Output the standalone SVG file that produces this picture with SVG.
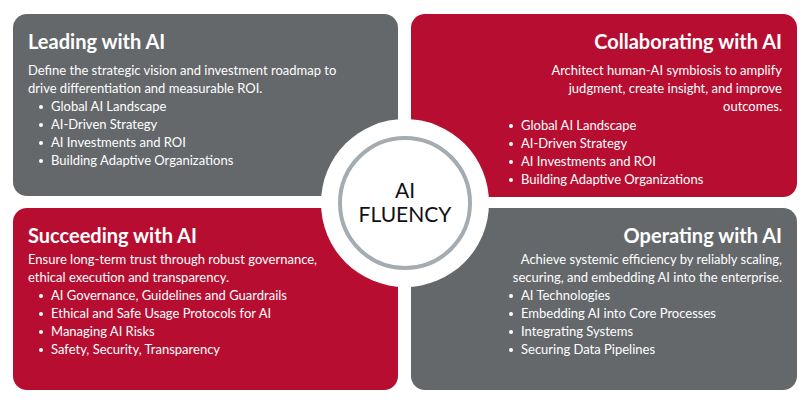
<svg xmlns="http://www.w3.org/2000/svg" width="810" height="405" viewBox="0 0 810 405">
<style>
.g{fill:#64686b}.r{fill:#b70d30}
text{font-family:Lato,"Open Sans",sans-serif;fill:#fff}
.t{font-size:20px;font-weight:bold}
.b{font-size:13px}
.e{text-anchor:end}
</style>
<rect width="810" height="405" fill="#fff"/>
<g id="leading">
<rect class="g" x="13" y="14" width="385" height="182" rx="14"/>
<text class="t" x="28" y="49">Leading with AI</text>
<text class="b" x="28" y="75">Define the strategic vision and investment roadmap to</text>
<text class="b" x="28" y="93">drive differentiation and measurable ROI.</text>
<g class="b"><circle cx="41" cy="107" r="2" fill="#fff"/><text x="51" y="111">Global AI Landscape</text>
<circle cx="41" cy="125" r="2" fill="#fff"/><text x="51" y="129">AI-Driven Strategy</text>
<circle cx="41" cy="143" r="2" fill="#fff"/><text x="51" y="147">AI Investments and ROI</text>
<circle cx="41" cy="161" r="2" fill="#fff"/><text x="51" y="165">Building Adaptive Organizations</text></g>
</g>
<g id="collaborating">
<rect class="r" x="411" y="14" width="386" height="183" rx="14"/>
<text class="t e" x="782" y="49">Collaborating with AI</text>
<text class="b e" x="782" y="75">Architect human-AI symbiosis to amplify</text>
<text class="b e" x="782" y="93">judgment, create insight, and improve</text>
<text class="b e" x="782" y="111">outcomes.</text>
<g class="b"><circle cx="511" cy="126" r="2" fill="#fff"/><text x="521" y="130">Global AI Landscape</text>
<circle cx="511" cy="144" r="2" fill="#fff"/><text x="521" y="148">AI-Driven Strategy</text>
<circle cx="511" cy="162" r="2" fill="#fff"/><text x="521" y="166">AI Investments and ROI</text>
<circle cx="511" cy="180" r="2" fill="#fff"/><text x="521" y="184">Building Adaptive Organizations</text></g>
</g>
<g id="succeeding">
<rect class="r" x="13" y="208" width="385" height="182" rx="14"/>
<text class="t" x="28" y="243">Succeeding with AI</text>
<text class="b" x="28" y="264">Ensure long-term trust through robust governance,</text>
<text class="b" x="28" y="282">ethical execution and transparency.</text>
<g class="b"><circle cx="41" cy="296" r="2" fill="#fff"/><text x="51" y="300">AI Governance, Guidelines and Guardrails</text>
<circle cx="41" cy="314" r="2" fill="#fff"/><text x="51" y="318">Ethical and Safe Usage Protocols for AI</text>
<circle cx="41" cy="332" r="2" fill="#fff"/><text x="51" y="336">Managing AI Risks</text>
<circle cx="41" cy="350" r="2" fill="#fff"/><text x="51" y="354">Safety, Security, Transparency</text></g>
</g>
<g id="operating">
<rect class="g" x="411" y="208" width="386" height="182" rx="14"/>
<text class="t e" x="782" y="243">Operating with AI</text>
<text class="b e" x="782" y="264">Achieve systemic efficiency by reliably scaling,</text>
<text class="b e" x="782" y="282">securing, and embedding AI into the enterprise.</text>
<g class="b"><circle cx="511" cy="296" r="2" fill="#fff"/><text x="521" y="300">AI Technologies</text>
<circle cx="511" cy="314" r="2" fill="#fff"/><text x="521" y="318">Embedding AI into Core Processes</text>
<circle cx="511" cy="332" r="2" fill="#fff"/><text x="521" y="336">Integrating Systems</text>
<circle cx="511" cy="350" r="2" fill="#fff"/><text x="521" y="354">Securing Data Pipelines</text></g>
</g>
<g id="center">
<circle cx="405" cy="203" r="84" fill="#fff"/>
<circle cx="405" cy="203" r="65" fill="#fff" stroke="#a5acb1" stroke-width="4"/>
<text x="405" y="198" text-anchor="middle" style="fill:#111;font-size:21px">AI</text>
<text x="405" y="222" text-anchor="middle" style="fill:#111;font-size:21px">FLUENCY</text>
</g>
<g id="connectors"/>
</svg>
